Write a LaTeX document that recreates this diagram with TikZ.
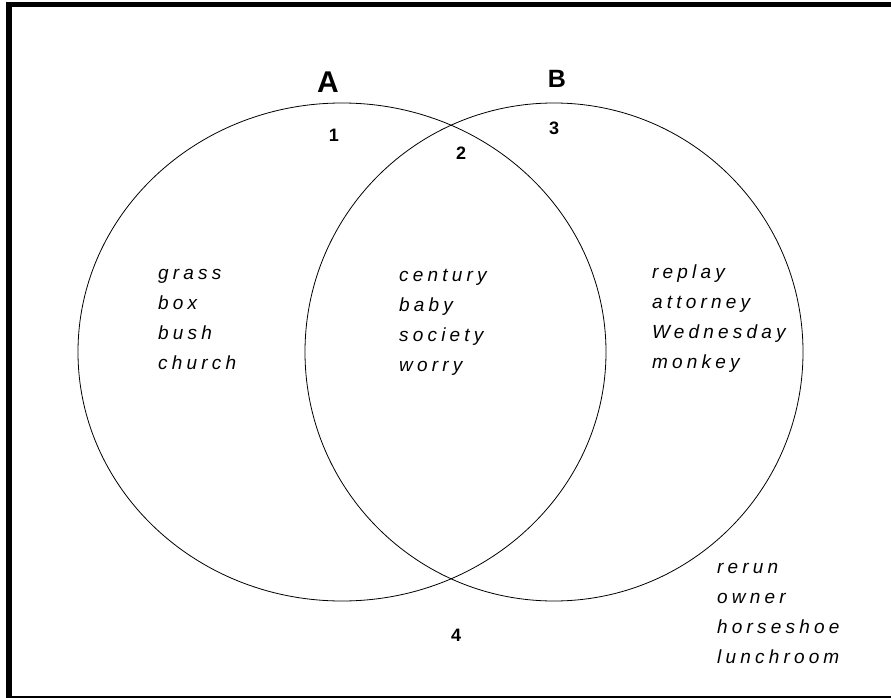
\documentclass[tikz,border=0pt]{standalone}
\usepackage{fontspec}
\setmainfont{Liberation Sans}
\newfontfamily\wordfont[LetterSpace=22]{Liberation Sans}
\begin{document}
\begin{tikzpicture}[x=1pt,y=-1pt,
  words/.style={anchor=base west,inner sep=0pt,align=left,
    font=\wordfont\itshape\fontsize{19}{30}\selectfont},
  setlabel/.style={anchor=base,inner sep=0pt,font=\bfseries},
  regionnum/.style={anchor=base,inner sep=0pt,font=\bfseries\fontsize{18}{22}\selectfont},
  setline/.style={line width=0.8pt}]
\useasboundingbox (0,0) rectangle (891,698);
\clip (0,0) rectangle (891,698);
\draw[line width=5.5pt] (9,4.5) rectangle (905,698.5);
\draw[setline] (342,352) ellipse [x radius=264,y radius=249];
\draw[setline] (554,352) ellipse [x radius=249,y radius=249];
\node[setlabel,font=\bfseries\fontsize{30}{32}\selectfont] (la) at (328,93) {A};
\node[setlabel,font=\bfseries\fontsize{25}{28}\selectfont] (lb) at (557,88) {B};
\node[regionnum] (n1) at (334,142) {1};
\node[regionnum] (n2) at (461,160) {2};
\node[regionnum] (n3) at (554,135) {3};
\node[regionnum] (n4) at (456,641) {4};
\node[words] (wa) at (158,369) {grass\\box\\bush\\church};
\node[words] (wab) at (399,371) {century\\baby\\society\\worry};
\node[words] (wb) at (652,368) {replay\\attorney\\Wednesday\\monkey};
\node[words] (wo) at (717,663) {rerun\\owner\\horseshoe\\lunchroom};
\end{tikzpicture}
\end{document}
